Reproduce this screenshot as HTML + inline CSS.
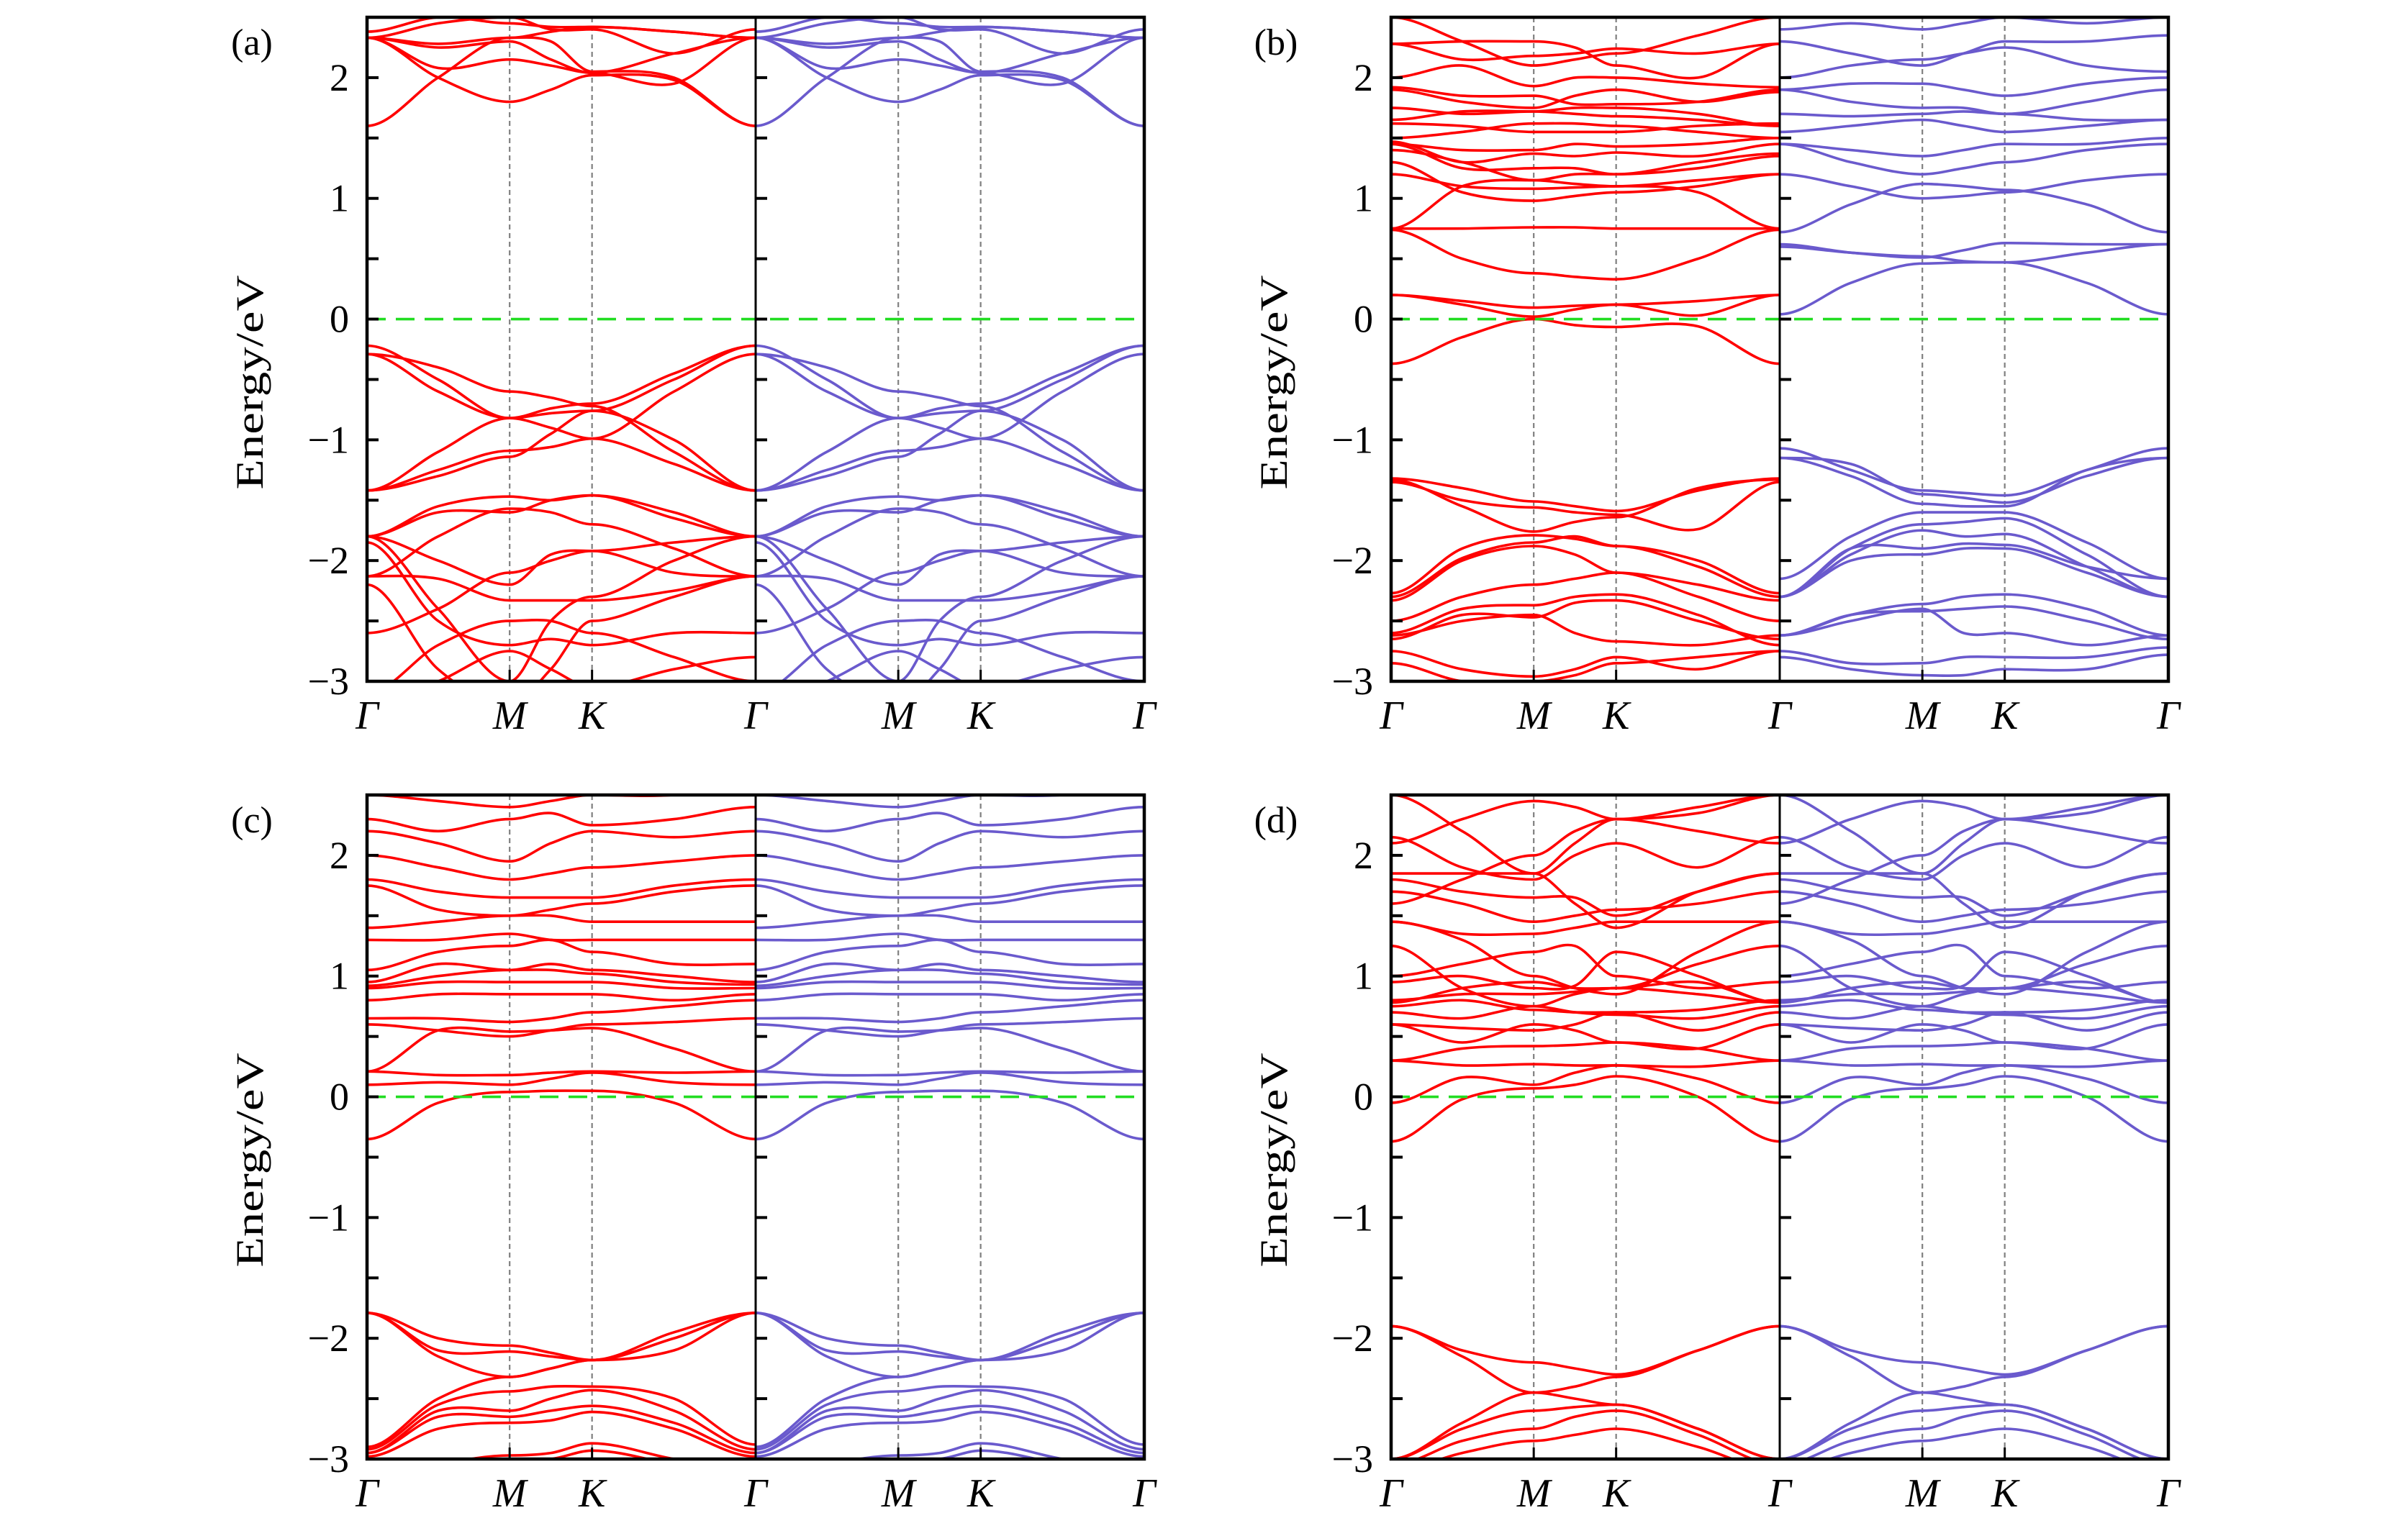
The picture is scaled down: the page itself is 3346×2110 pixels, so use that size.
<!DOCTYPE html>
<html><head><meta charset="utf-8"><title>Band structures</title>
<style>html,body{margin:0;padding:0;background:#fff}svg{display:block}</style></head>
<body>
<svg id="fig" xmlns="http://www.w3.org/2000/svg" width="3346" height="2110" viewBox="0 0 3346 2110"></svg>
<script>
// k-path sample positions (fraction of each half-panel): Γ, ΓM, M, MK, K, KΓ, Γ
const kFrac = [0, 0.183, 0.367, 0.473, 0.579, 0.79, 1];
const kLabels = ["Γ", "M", "K", "Γ"];
const yTicks = [-3, -2, -1, 0, 1, 2];
const panelLetters = ["(a)", "(b)", "(c)", "(d)"];

// Panel (a)
const aUp = [
 [1.6,2.0,2.33,2.3,2.05,2.0,1.6],
 [2.33,2.0,1.8,1.9,2.02,1.98,1.6],
 [2.33,2.08,2.15,2.1,2.04,1.95,2.33],
 [2.33,2.25,2.3,2.15,2.04,2.2,2.33],
 [2.33,2.28,2.33,2.38,2.42,2.38,2.33],
 [2.38,2.5,2.45,2.42,2.42,2.38,2.33],
 [2.33,2.45,2.5,2.4,2.4,2.2,2.4],
 [-0.22,-0.5,-0.82,-0.9,-0.99,-1.2,-1.42],
 [-0.29,-0.4,-0.6,-0.65,-0.72,-1.1,-1.42],
 [-1.42,-1.1,-0.82,-0.74,-0.7,-0.45,-0.22],
 [-1.42,-1.25,-1.09,-1.06,-0.99,-0.6,-0.29],
 [-1.42,-1.3,-1.14,-0.95,-0.76,-0.5,-0.22],
 [-0.29,-0.6,-0.82,-0.78,-0.76,-1.0,-1.42],
 [-1.8,-1.55,-1.47,-1.5,-1.46,-1.65,-1.8],
 [-1.8,-1.6,-1.6,-1.5,-1.46,-1.6,-1.8],
 [-2.13,-1.8,-1.57,-1.6,-1.7,-1.9,-2.13],
 [-1.8,-2.0,-2.2,-1.95,-1.92,-1.85,-1.8],
 [-2.13,-2.15,-2.33,-2.33,-2.33,-2.25,-2.13],
 [-2.6,-2.4,-2.1,-2.0,-1.92,-2.1,-2.13],
 [-1.8,-2.4,-3.0,-2.5,-2.3,-2.0,-1.8],
 [-1.85,-2.5,-2.7,-2.65,-2.7,-2.6,-2.6],
 [-3.1,-2.7,-2.5,-2.5,-2.6,-2.8,-3.0],
 [-2.2,-2.9,-3.2,-2.9,-2.5,-2.3,-2.13],
 [-3.2,-3.0,-2.75,-2.9,-3.05,-2.9,-2.8]
];
const aDn = aUp;

// Panel (b)
const bUp = [
 [-0.37,-0.15,0.0,-0.05,-0.065,-0.06,-0.37],
 [0.2,0.12,0.02,0.08,0.12,0.03,0.2],
 [0.2,0.15,0.095,0.11,0.12,0.15,0.2],
 [0.74,0.5,0.38,0.35,0.33,0.5,0.74],
 [0.75,0.75,0.76,0.76,0.75,0.75,0.75],
 [0.75,1.1,1.15,1.12,1.1,1.05,0.75],
 [1.2,1.1,1.08,1.09,1.1,1.15,1.2],
 [1.3,1.05,0.98,1.02,1.05,1.1,1.2],
 [1.4,1.3,1.15,1.2,1.2,1.25,1.35],
 [1.45,1.25,1.25,1.25,1.2,1.3,1.37],
 [1.47,1.3,1.37,1.35,1.38,1.35,1.45],
 [1.45,1.4,1.4,1.45,1.43,1.45,1.5],
 [1.5,1.55,1.62,1.62,1.6,1.55,1.5],
 [1.62,1.6,1.55,1.55,1.55,1.6,1.62],
 [1.65,1.72,1.72,1.75,1.75,1.7,1.6],
 [1.75,1.7,1.72,1.7,1.68,1.65,1.6],
 [1.9,1.8,1.75,1.85,1.9,1.8,1.88],
 [1.92,1.85,1.85,1.78,1.78,1.8,1.9],
 [2.0,2.1,1.93,2.0,2.0,1.95,1.92],
 [2.28,2.3,2.3,2.25,2.1,2.0,2.28],
 [2.28,2.15,2.18,2.2,2.24,2.2,2.28],
 [2.5,2.3,2.1,2.15,2.2,2.35,2.5],
 [-1.32,-1.4,-1.51,-1.55,-1.59,-1.42,-1.32],
 [-1.33,-1.55,-1.76,-1.68,-1.64,-1.4,-1.33],
 [-1.35,-1.5,-1.56,-1.6,-1.62,-1.74,-1.35],
 [-2.27,-1.9,-1.79,-1.82,-1.88,-2.0,-2.27],
 [-2.3,-1.98,-1.85,-1.8,-1.88,-2.05,-2.3],
 [-2.33,-2.0,-1.88,-1.95,-2.1,-2.2,-2.33],
 [-2.5,-2.3,-2.2,-2.15,-2.1,-2.3,-2.5],
 [-2.6,-2.4,-2.37,-2.3,-2.28,-2.45,-2.7],
 [-2.65,-2.45,-2.47,-2.35,-2.33,-2.5,-2.65],
 [-2.62,-2.5,-2.45,-2.6,-2.67,-2.7,-2.62],
 [-2.75,-2.9,-2.96,-2.9,-2.8,-2.9,-2.75],
 [-2.85,-3.0,-3.0,-2.95,-2.85,-2.8,-2.75]
];
const bDn = [
 [0.04,0.3,0.46,0.47,0.47,0.3,0.04],
 [0.62,0.55,0.51,0.57,0.63,0.62,0.62],
 [0.6,0.55,0.52,0.48,0.47,0.55,0.62],
 [0.72,0.95,1.12,1.1,1.07,0.95,0.72],
 [1.2,1.1,1.0,1.02,1.05,1.15,1.2],
 [1.45,1.3,1.2,1.25,1.3,1.4,1.45],
 [1.45,1.4,1.35,1.4,1.45,1.45,1.5],
 [1.55,1.6,1.65,1.6,1.55,1.6,1.65],
 [1.7,1.68,1.7,1.72,1.7,1.65,1.65],
 [1.9,1.8,1.75,1.75,1.7,1.8,1.9],
 [1.9,1.95,1.95,1.9,1.85,1.95,2.0],
 [2.0,2.1,2.15,2.2,2.25,2.1,2.05],
 [2.3,2.2,2.1,2.2,2.3,2.3,2.35],
 [2.4,2.45,2.4,2.45,2.5,2.45,2.5],
 [-1.07,-1.25,-1.42,-1.44,-1.46,-1.25,-1.07],
 [-1.15,-1.2,-1.45,-1.48,-1.52,-1.3,-1.15],
 [-1.15,-1.3,-1.53,-1.55,-1.55,-1.25,-1.15],
 [-2.15,-1.8,-1.6,-1.6,-1.6,-1.85,-2.15],
 [-2.3,-1.9,-1.7,-1.68,-1.65,-1.95,-2.3],
 [-2.3,-1.95,-1.75,-1.8,-1.78,-2.05,-2.3],
 [-2.3,-1.9,-1.9,-1.86,-1.87,-2.05,-2.15],
 [-2.3,-2.0,-1.95,-1.9,-1.9,-2.1,-2.3],
 [-2.62,-2.45,-2.36,-2.3,-2.28,-2.4,-2.62],
 [-2.62,-2.45,-2.42,-2.4,-2.38,-2.5,-2.65],
 [-2.62,-2.5,-2.4,-2.6,-2.6,-2.7,-2.62],
 [-2.75,-2.85,-2.85,-2.8,-2.8,-2.8,-2.72],
 [-2.8,-2.9,-2.95,-2.95,-2.9,-2.9,-2.78]
];

// Panel (c)
const cUp = [
 [-0.35,-0.05,0.04,0.05,0.05,-0.05,-0.35],
 [0.1,0.12,0.1,0.15,0.2,0.12,0.1],
 [0.21,0.18,0.18,0.2,0.21,0.2,0.21],
 [0.21,0.55,0.54,0.55,0.57,0.4,0.21],
 [0.6,0.55,0.5,0.55,0.6,0.62,0.65],
 [0.65,0.65,0.62,0.65,0.7,0.75,0.8],
 [0.8,0.85,0.85,0.85,0.85,0.8,0.85],
 [0.9,0.95,0.95,0.95,0.95,0.9,0.9],
 [0.92,1.0,1.05,1.05,1.02,0.95,0.93],
 [0.95,1.1,1.05,1.1,1.05,1.0,0.95],
 [1.05,1.2,1.25,1.3,1.2,1.1,1.1],
 [1.3,1.3,1.35,1.3,1.3,1.3,1.3],
 [1.4,1.45,1.5,1.5,1.45,1.45,1.45],
 [1.75,1.55,1.5,1.55,1.6,1.7,1.75],
 [1.8,1.7,1.65,1.65,1.65,1.75,1.8],
 [2.0,1.9,1.8,1.85,1.9,1.95,2.0],
 [2.2,2.1,1.95,2.1,2.2,2.15,2.2],
 [2.3,2.2,2.3,2.35,2.25,2.3,2.4],
 [2.5,2.45,2.4,2.45,2.5,2.5,2.6],
 [-1.79,-2.0,-2.06,-2.12,-2.18,-2.0,-1.79],
 [-1.79,-2.1,-2.11,-2.15,-2.18,-1.95,-1.79],
 [-1.79,-2.15,-2.32,-2.25,-2.18,-2.1,-1.79],
 [-2.9,-2.5,-2.32,-2.25,-2.18,-2.0,-1.79],
 [-2.92,-2.55,-2.44,-2.4,-2.4,-2.5,-2.88],
 [-2.95,-2.6,-2.6,-2.5,-2.43,-2.6,-2.92],
 [-2.95,-2.65,-2.65,-2.6,-2.56,-2.7,-2.95],
 [-2.98,-2.75,-2.7,-2.68,-2.61,-2.75,-2.98],
 [-3.2,-3.05,-2.97,-2.95,-2.87,-3.0,-3.1],
 [-3.2,-3.1,-3.0,-3.0,-2.93,-3.05,-3.2]
];
const cDn = cUp;

// Panel (d)
const dUp = [
 [-0.37,-0.02,0.07,0.1,0.17,0.0,-0.37],
 [-0.05,0.16,0.1,0.2,0.26,0.15,-0.05],
 [0.3,0.26,0.27,0.26,0.26,0.25,0.3],
 [0.3,0.4,0.42,0.43,0.45,0.4,0.3],
 [0.6,0.45,0.6,0.55,0.45,0.4,0.6],
 [0.6,0.57,0.55,0.6,0.7,0.55,0.7],
 [0.7,0.65,0.75,0.7,0.68,0.65,0.75],
 [0.75,0.8,0.72,0.7,0.7,0.72,0.8],
 [0.8,0.85,0.85,0.87,0.9,0.85,0.78],
 [0.78,0.9,0.95,0.9,0.9,0.95,0.78],
 [0.95,1.0,0.9,0.92,1.2,1.0,0.78],
 [1.0,1.1,1.2,1.25,1.0,0.9,0.95],
 [1.25,0.9,0.75,0.85,0.9,1.1,1.25],
 [1.45,1.35,1.35,1.4,1.45,1.45,1.45],
 [1.45,1.3,1.0,0.9,0.85,1.2,1.45],
 [1.7,1.6,1.45,1.5,1.55,1.6,1.7],
 [1.8,1.7,1.65,1.65,1.5,1.7,1.85],
 [1.85,1.85,1.85,1.6,1.4,1.7,1.85],
 [2.15,1.9,1.8,2.0,2.1,1.9,2.15],
 [2.1,2.3,2.45,2.4,2.3,2.2,2.1],
 [2.5,2.2,1.85,2.1,2.3,2.35,2.5],
 [1.6,1.8,2.0,2.2,2.3,2.4,2.5],
 [-1.9,-2.1,-2.2,-2.25,-2.3,-2.1,-1.9],
 [-1.9,-2.15,-2.45,-2.4,-2.32,-2.1,-1.9],
 [-3.0,-2.7,-2.45,-2.5,-2.55,-2.75,-3.0],
 [-3.0,-2.75,-2.6,-2.57,-2.55,-2.75,-3.0],
 [-3.05,-2.85,-2.75,-2.65,-2.6,-2.8,-3.05],
 [-3.1,-2.95,-2.85,-2.8,-2.75,-2.9,-3.1]
];
const dDn = dUp;

const panelUp = [aUp, bUp, cUp, dUp];
const panelDn = [aDn, bDn, cDn, dDn];

const EMAX = 2.5, EMIN = -3;
const geo = [
  {L:510, W:540, T:24, B:947},
  {L:1933, W:540, T:24, B:947},
  {L:510, W:540, T:1105, B:2028},
  {L:1933, W:540, T:1105, B:2028}
];
const RED = "#ff0000", BLUE = "#6a5acd";
const NS = "http://www.w3.org/2000/svg";
const svg = document.getElementById("fig");
const flatIdx = [0, 2, 4, 6];

function mk(tag, attrs, parent) {
  const e = document.createElementNS(NS, tag);
  for (const k in attrs) e.setAttribute(k, attrs[k]);
  (parent || svg).appendChild(e);
  return e;
}
function yS(g, E) { return g.T + (EMAX - E) * (g.B - g.T) / (EMAX - EMIN); }
function xS(g, half, f) { return g.L + half * g.W + f * g.W; }

function slope(pts, i) {
  if (flatIdx.indexOf(i) >= 0) return 0;
  const a = pts[i - 1], b = pts[i + 1];
  return (b[1] - a[1]) / (b[0] - a[0]);
}
function curvePath(pts) {
  let d = "M" + pts[0][0].toFixed(1) + "," + pts[0][1].toFixed(1);
  for (let i = 0; i < pts.length - 1; i++) {
    const p1 = pts[i], p2 = pts[i + 1];
    const dx = (p2[0] - p1[0]) / 3;
    const m1 = slope(pts, i), m2 = slope(pts, i + 1);
    d += " C" + (p1[0] + dx).toFixed(1) + "," + (p1[1] + m1 * dx).toFixed(1) + " " +
         (p2[0] - dx).toFixed(1) + "," + (p2[1] - m2 * dx).toFixed(1) + " " +
         p2[0].toFixed(1) + "," + p2[1].toFixed(1);
  }
  return d;
}

const defs = mk("defs", {});
geo.forEach(function (g, p) {
  const grp = mk("g", {});
  
  

  for (let h = 0; h < 2; h++) {
    const cp = mk("clipPath", {id: "clip" + p + "_" + h}, defs);
    mk("rect", {x: xS(g, h, 0), y: g.T, width: g.W, height: g.B - g.T}, cp);
  }

  for (let h = 0; h < 2; h++) {
    [kFrac[2], kFrac[4]].forEach(function (f) {
      const ln = mk("line", {x1: xS(g, h, f), x2: xS(g, h, f), y1: g.T, y2: g.B, stroke: "#808080", "stroke-width": 2.2, "stroke-dasharray": "7,5"}, grp);
      
      
    });
  }

  [panelUp[p], panelDn[p]].forEach(function (bands, h) {
    const bg = mk("g", {"clip-path": "url(#clip" + p + "_" + h + ")"}, grp);
    
    
    bands.forEach(function (band) {
      const pts = band.map(function (E, i) { return [xS(g, h, kFrac[i]), yS(g, E)]; });
      const path = mk("path", {d: curvePath(pts), fill: "none", stroke: h === 0 ? RED : BLUE, "stroke-width": 3.6, "stroke-linejoin": "round"}, bg);
      
      
    });
  });

  const fl = mk("line", {x1: g.L, x2: g.L + 2 * g.W, y1: yS(g, 0), y2: yS(g, 0), stroke: "#22dd22", "stroke-width": 3.6, "stroke-dasharray": "26,14"}, grp);
  
  

  const fr = mk("rect", {x: g.L, y: g.T, width: 2 * g.W, height: g.B - g.T, fill: "none", stroke: "#000", "stroke-width": 4.5}, grp);
  
  
  const dv = mk("line", {x1: g.L + g.W, x2: g.L + g.W, y1: g.T, y2: g.B, stroke: "#000", "stroke-width": 3}, grp);
  
  

  for (let E = EMIN; E <= EMAX + 1e-6; E += 0.5) {
    [g.L, g.L + g.W].forEach(function (x0) {
      const tk = mk("line", {x1: x0, x2: x0 + 16, y1: yS(g, E), y2: yS(g, E), stroke: "#000", "stroke-width": 4}, grp);
      
      
    });
  }
  yTicks.forEach(function (E) {
    const t = mk("text", {x: g.L - 25, y: yS(g, E) + 18, "text-anchor": "end", "font-family": "Liberation Serif, serif", "font-size": 54}, grp);
    t.textContent = (E < 0 ? "\u2212" : "") + Math.abs(E);
    
    
  });

  for (let h = 0; h < 2; h++) {
    [kFrac[2], kFrac[4]].forEach(function (f) {
      const tk = mk("line", {x1: xS(g, h, f), x2: xS(g, h, f), y1: g.B, y2: g.B - 16, stroke: "#000", "stroke-width": 3}, grp);
      
      
    });
  }
  const labPos = [0, kFrac[2], kFrac[4], 1];
  for (let h = 0; h < 2; h++) {
    kLabels.forEach(function (lab, i) {
      if (h === 1 && i === 0) return;
      const t = mk("text", {x: xS(g, h, labPos[i]), y: g.B + 66, "text-anchor": "middle", "font-family": "Liberation Serif, serif", "font-style": "italic", "font-size": 56}, grp);
      t.textContent = lab;
      
      
    });
  }

  const cy = (g.T + g.B) / 2 + 46;
  const yl = mk("text", {x: 0, y: 0, transform: "translate(" + (g.L - 145) + "," + cy + ") rotate(-90)", "text-anchor": "middle", "font-family": "Liberation Serif, serif", "font-size": 54, textLength: 298, lengthAdjust: "spacingAndGlyphs"}, grp);
  yl.textContent = "Energy/eV";
  
  

  const pl = mk("text", {x: g.L - 160, y: g.T + 52, "text-anchor": "middle", "font-family": "Liberation Serif, serif", "font-size": 52}, grp);
  pl.textContent = panelLetters[p];
  
  
});
</script>
</body></html>
